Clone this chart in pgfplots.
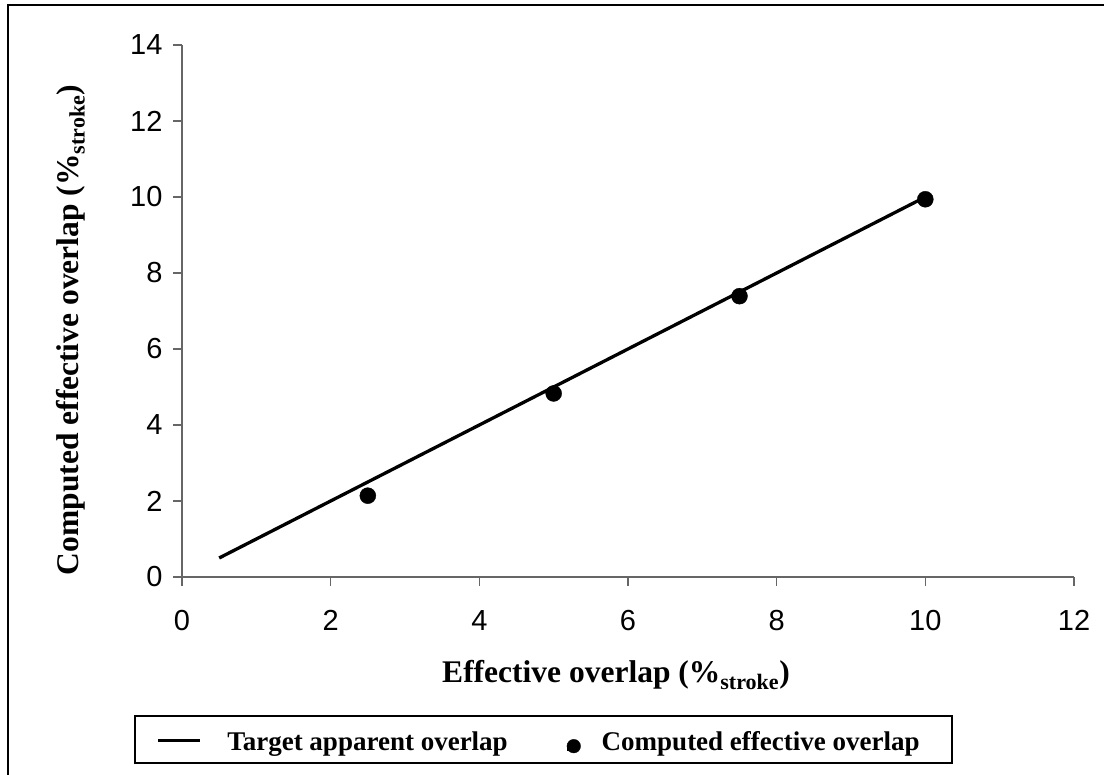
\documentclass[border=0pt]{standalone}
\usepackage{pgfplots}
\pgfplotsset{compat=1.18}
\usepackage{fontspec}
\setmainfont{Liberation Serif}
\newfontfamily\arial{Liberation Sans}
\begin{document}
\begin{tikzpicture}[x=1pt,y=1pt]
\useasboundingbox (0,0) rectangle (1104,775);
\draw[line width=2.2pt] (8,-5) -- (8,770) -- (1110,770);
\begin{axis}[
  at={(182pt,198pt)}, anchor=south west,
  width=892pt, height=532pt, scale only axis,
  xmin=0, xmax=12, ymin=0, ymax=14,
  xtick={0,2,...,12}, ytick={0,2,...,14},
  axis x line=bottom, axis y line=left,
  axis line style={-, draw=black!60, line width=1.3pt},
  tick align=outside, major tick length=9pt,
  tick style={draw=black!60, line width=1.3pt},
  ticklabel style={font=\arial\fontsize{29}{33}\selectfont},
  /pgf/number format/assume math mode=true,
  xticklabel style={yshift=-21pt},
  yticklabel style={xshift=-7pt},
  clip=false,
  legend columns=2,
  legend style={at={(-0.032,-0.310)}, anchor=west, draw=none, fill=none,
    font=\bfseries\fontsize{27}{31}\selectfont,
    nodes={inner sep=0pt, anchor=base west},
    /tikz/every odd column/.append style={column sep=26pt},
    /tikz/every even column/.append style={column sep=59pt}},
]
\addplot[black, line width=3.3pt, no marks,
  legend image code/.code={\draw[black, line width=2.6pt] (0pt,10pt) -- (42pt,10pt);}]
  coordinates {(0.5,0.5) (10,10)};
\addlegendentry{Target apparent overlap}
\addplot[only marks, mark=*, mark size=8pt, black,
  legend image code/.code={\fill[black, overlay] (0pt,4.5pt) circle (6.8pt);
    \path (-6.8pt,0pt) rectangle (1.8pt,5pt);}]
  coordinates {(2.5,2.14) (5,4.83) (7.5,7.39) (10,9.94)};
\addlegendentry{Computed effective overlap}
\end{axis}
\node[font=\bfseries\fontsize{31.5}{38}\selectfont, anchor=base] at (616,92) {Effective overlap (\%\textsubscript{stroke})};
\node[font=\bfseries\fontsize{31.5}{38}\selectfont, anchor=base, rotate=90] at (78,445) {Computed effective overlap (\%\textsubscript{stroke})};
\draw[line width=2.6pt] (135,59) rectangle (952,12);
\end{tikzpicture}
\end{document}
